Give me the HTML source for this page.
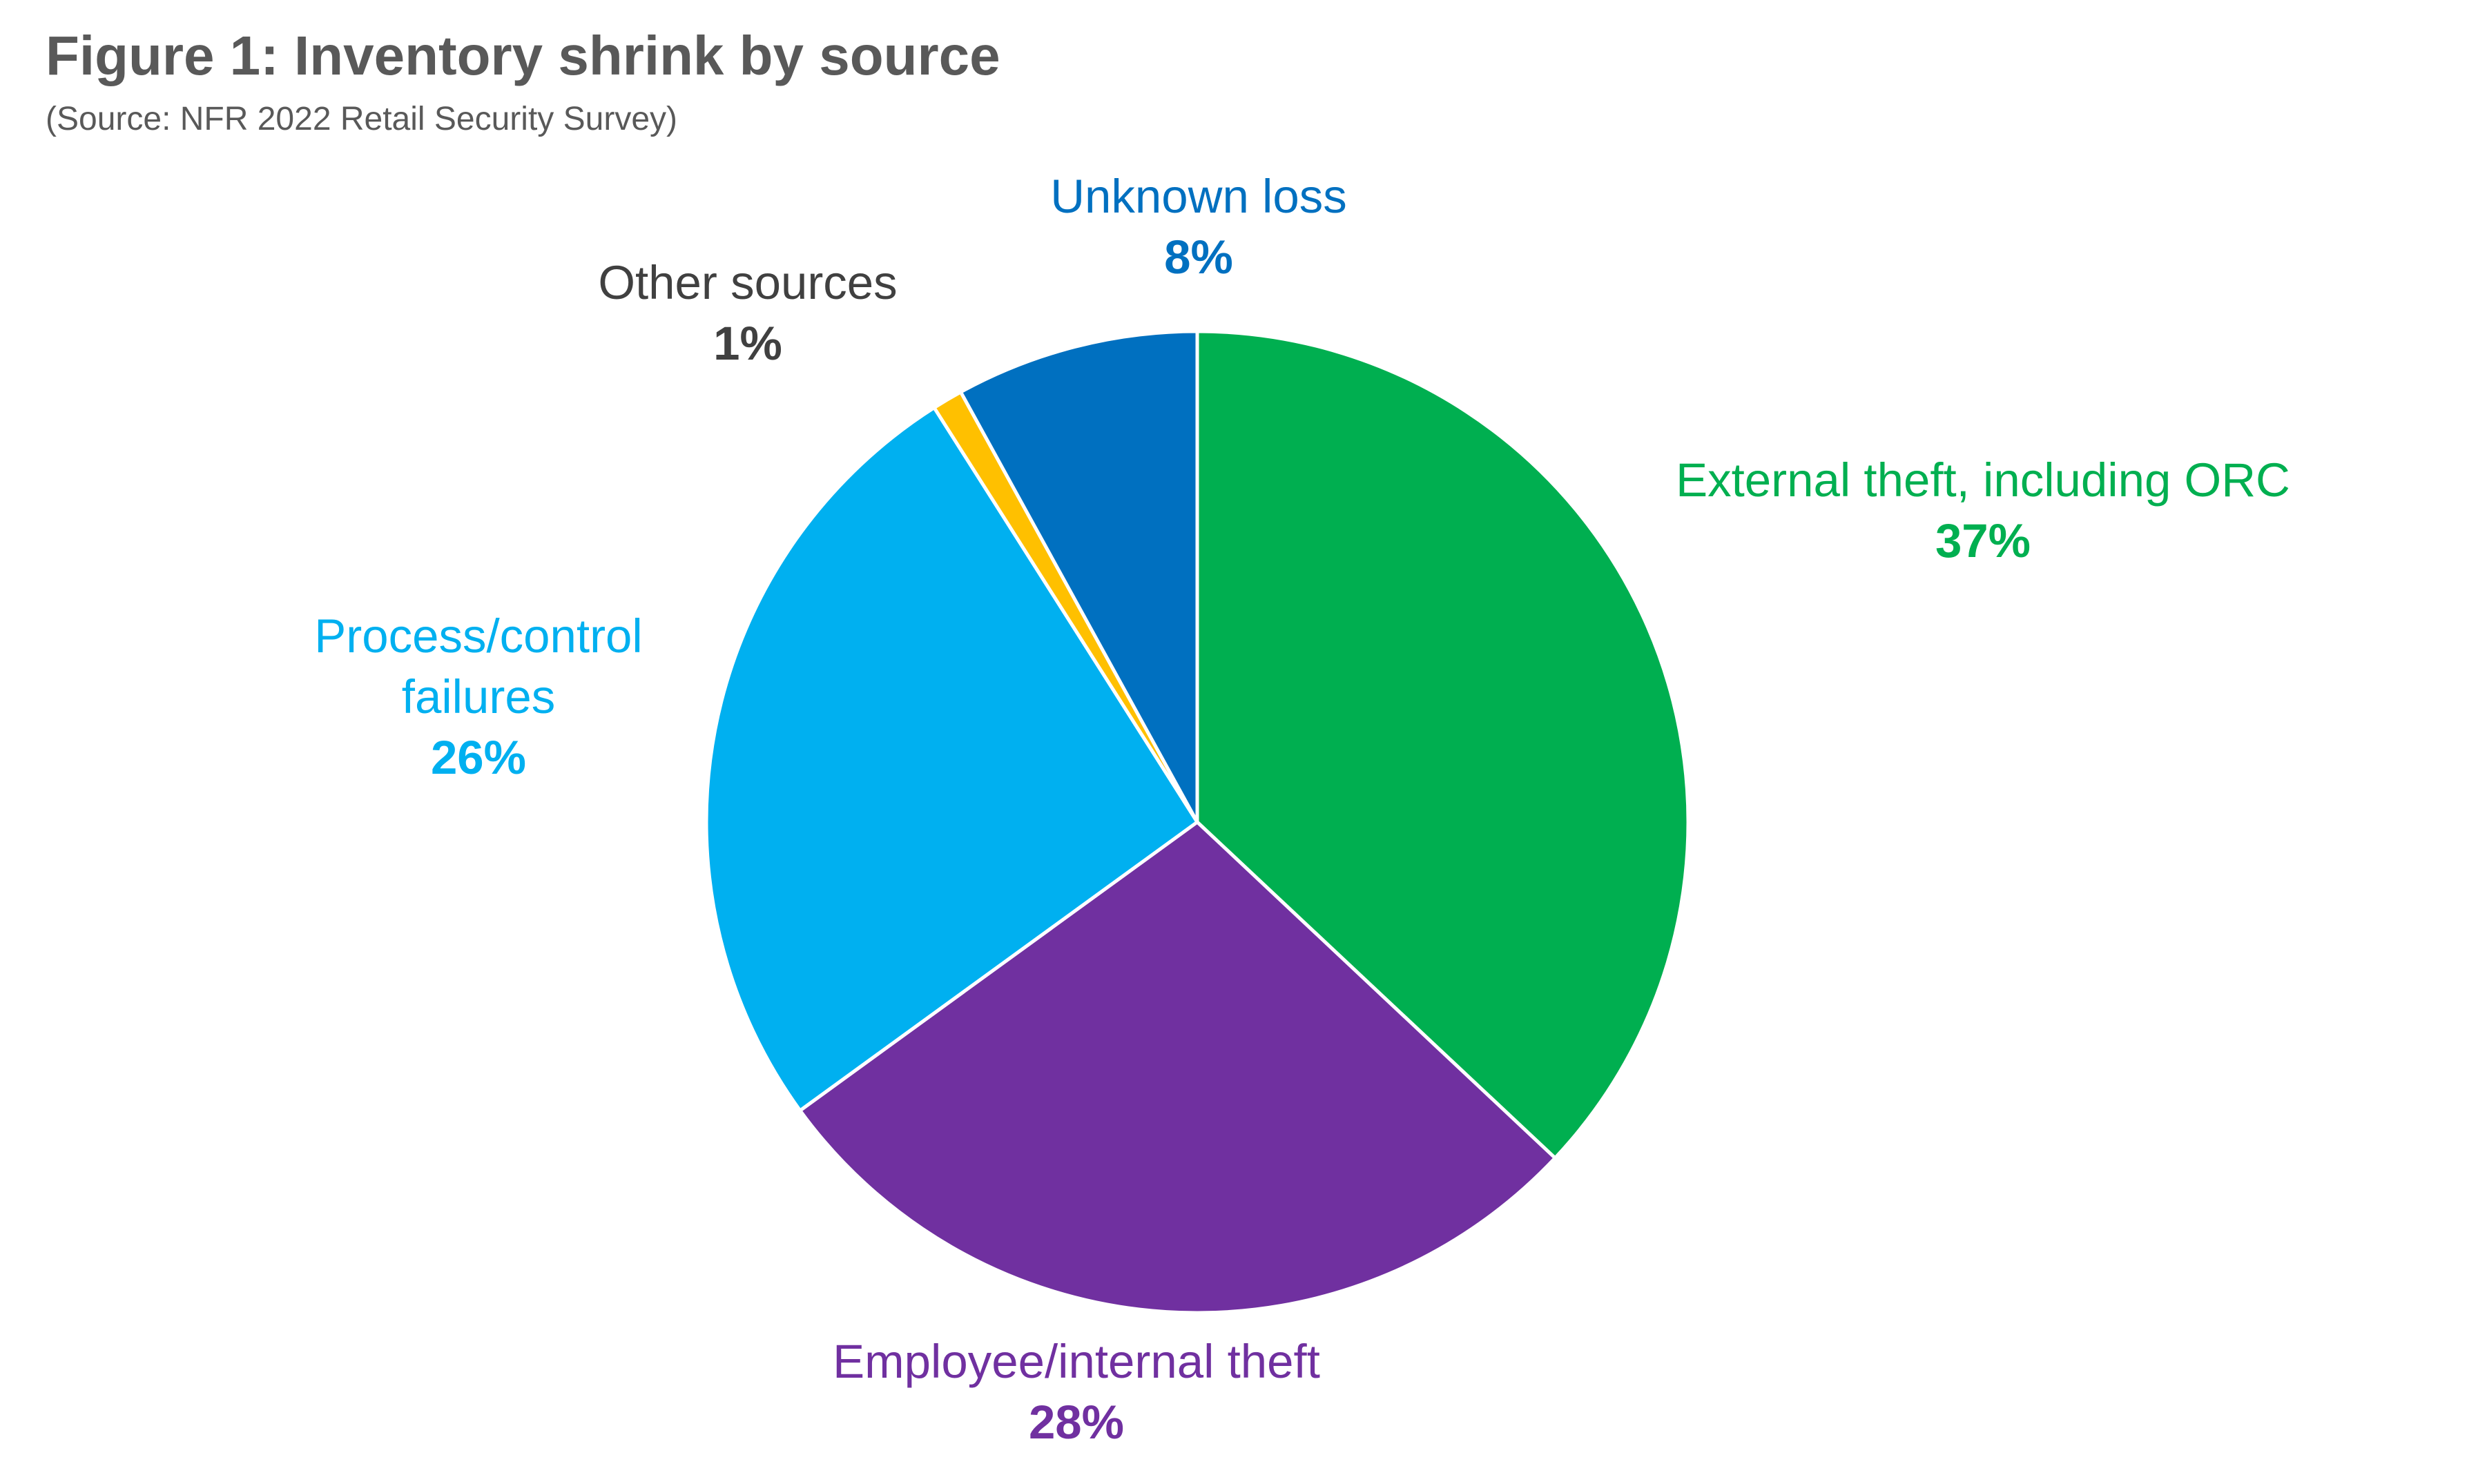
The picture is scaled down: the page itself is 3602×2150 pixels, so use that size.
<!DOCTYPE html>
<html><head><meta charset="utf-8"><style>
body{margin:0;background:#fff;width:3602px;height:2145px;overflow:hidden;font-family:"Liberation Sans",sans-serif}
</style></head><body>
<svg width="3602" height="2145" viewBox="0 0 3602 2145">
<text x="66" y="108" font-size="80" font-weight="bold" fill="#595959">Figure 1: Inventory shrink by source</text>
<text x="66" y="188" font-size="48" fill="#595959">(Source: NFR 2022 Retail Security Survey)</text>
<g id="slices"></g>
<g id="labels" font-size="69" text-anchor="middle"></g>
</svg>
<script>
const categories=["External theft, including ORC","Employee/internal theft","Process/control failures","Other sources","Unknown loss"];
const values=[37,28,26,1,8];
const colors=["#00AF50","#7030A0","#00B0F0","#FFC000","#0070C0"];
const labelLines=[["External theft, including ORC"],["Employee/internal theft"],["Process/control","failures"],["Other sources"],["Unknown loss"]];
const labelPos=[[2872,695],[1559,1972],[693,921],[1083,409],[1736,284]];
const textColors=["#00AF50","#7030A0","#00B0F0","#404040","#0070C0"];
const cx=1734,cy=1191,r=711;
const ns="http://www.w3.org/2000/svg";
const total=values.reduce((a,b)=>a+b,0);
function pt(a){return [cx+r*Math.sin(a),cy-r*Math.cos(a)];}
let acc=0;
const g=document.getElementById('slices');
values.forEach((v,i)=>{
 const a0=acc/total*2*Math.PI;acc+=v;const a1=acc/total*2*Math.PI;
 const p0=pt(a0),p1=pt(a1);const large=(a1-a0)>Math.PI?1:0;
 const p=document.createElementNS(ns,'path');
 p.setAttribute('d',`M${cx},${cy}L${p0[0]},${p0[1]}A${r},${r} 0 ${large} 1 ${p1[0]},${p1[1]}Z`);
 p.setAttribute('fill',colors[i]);p.setAttribute('stroke','#fff');p.setAttribute('stroke-width','5');
 
 
 g.appendChild(p);
});
const lg=document.getElementById('labels');
labelLines.forEach((lines,i)=>{
 const [x,y]=labelPos[i];
 lines.concat([values[i]+'%']).forEach((s,j)=>{
  const t=document.createElementNS(ns,'text');
  t.setAttribute('x',x);t.setAttribute('y',y+j*88+24);
  t.setAttribute('fill',textColors[i]);
  if(j===lines.length)t.setAttribute('font-weight','bold');
  t.textContent=s;
  
  
  lg.appendChild(t);
 });
});
</script>
</body></html>
